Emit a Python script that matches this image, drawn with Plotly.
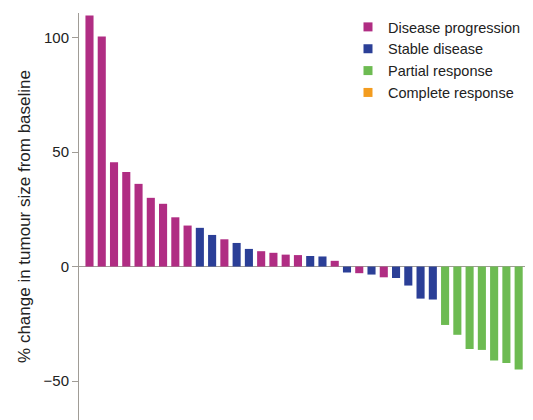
import plotly.graph_objects as go

# Data
responses = ["PD", "PD", "PD", "PD", "PD", "PD", "PD", "PD", "PD", "SD",
             "SD", "PD", "SD", "SD", "PD", "PD", "PD", "PD", "SD", "SD",
             "PD", "SD", "PD", "SD", "PD", "SD", "SD", "SD", "SD", "PR",
             "PR", "PR", "PR", "PR", "PR", "PR", "PR"]
changes = [109.6, 100.4, 45.5, 41.3, 36.1, 30.0, 27.4, 21.5, 17.9, 16.9,
           13.8, 11.9, 10.3, 7.7, 6.7, 6.0, 5.2, 5.0, 4.6, 4.4,
           2.5, -2.6, -2.9, -3.5, -4.7, -5.0, -8.3, -14.0, -14.4, -25.5,
           -29.8, -36.0, -36.4, -41.0, -42.1, -45.0, -45.7]
legend_codes = ["PD", "SD", "PR", "CR"]
legend_names = ["Disease progression", "Stable disease", "Partial response", "Complete response"]
palette = {"PD": "#B02D83", "SD": "#2B3F97", "PR": "#6DBB52", "CR": "#F39C1F"}
y_ticks = [-50, 0, 50, 100]
y_tick_labels = ["\u221250", "0", "50", "100"]

FONT = "Liberation Sans, Arial, Helvetica, sans-serif"
AXIS_GREY = "#A09C96"

positions = list(range(len(changes)))

fig = go.Figure()
fig.add_trace(go.Bar(
    x=positions, y=changes,
    marker=dict(color=[palette[r] for r in responses], line=dict(width=0)),
    showlegend=False, hoverinfo="y",
))
for code, name in zip(legend_codes, legend_names):
    fig.add_trace(go.Scatter(
        x=[None], y=[None], mode="markers", name=name,
        marker=dict(symbol="square", size=9, color=palette[code]),
    ))

# The page body has an 8px margin, so the figure is sized to fill the rest
fig.update_layout(
    width=525, height=412,
    margin=dict(l=71, r=0, t=5, b=0, autoexpand=False),
    paper_bgcolor="white", plot_bgcolor="white",
    bargap=0.34,
    font=dict(family=FONT, size=15, color="#222222"),
    legend=dict(x=0.5925, y=1.005, xanchor="left", yanchor="top",
                font=dict(size=14.5, family=FONT, color="#222222"),
                bgcolor="rgba(0,0,0,0)", itemclick=False),
    xaxis=dict(range=[-0.856, 36.17], visible=False),
    yaxis=dict(
        range=[-67, 110.7],
        tickvals=y_ticks, ticktext=y_tick_labels,
        showgrid=False,
        showline=True, linecolor=AXIS_GREY, linewidth=1,
        ticks="outside", ticklen=6, tickcolor=AXIS_GREY,
        tickfont=dict(size=15, family=FONT, color="#222222"),
        zeroline=True, zerolinecolor=AXIS_GREY, zerolinewidth=1,
        title=dict(text="% change in tumour size from baseline",
                   font=dict(size=17, family=FONT, color="#222222"), standoff=8),
    ),
)

fig.write_html("out.html")
